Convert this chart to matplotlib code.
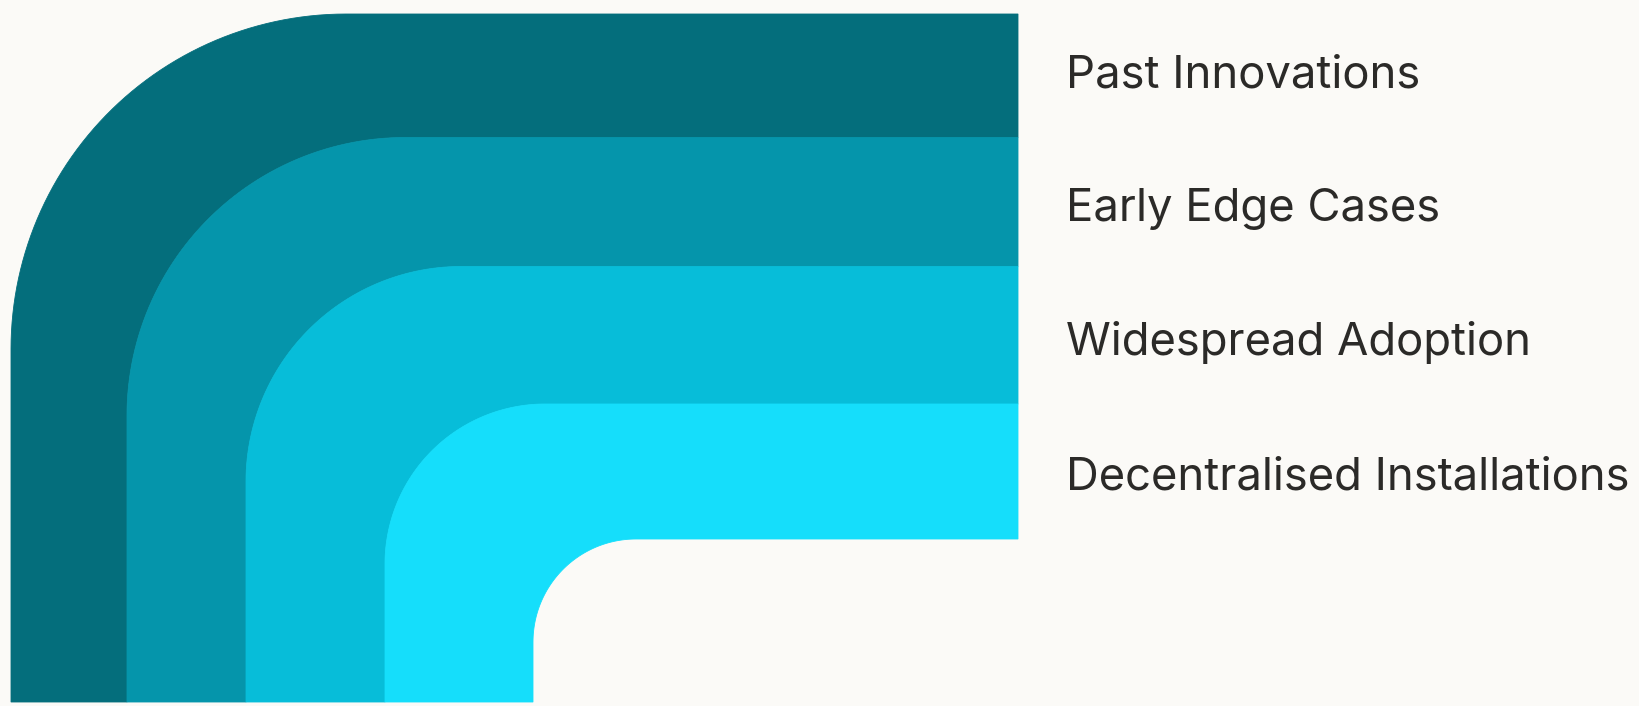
import numpy as np
import matplotlib.pyplot as plt
from matplotlib import font_manager

labels = ["Past Innovations", "Early Edge Cases", "Widespread Adoption", "Decentralised Installations"]
# thickness of each band in the horizontal arm and in the vertical arm
arm_h = [123.5, 129, 137.5, 135]
arm_v = [116, 119, 139, 148]
radii = [335, 278, 215, 160, 103]   # corner radius of each band edge, outermost first
colors = ["#046e7c", "#0595ab", "#07bdd9", "#15defb"]

bg = "#fbfaf7"
W, H = 1639, 706
left0, top0 = 11, 14
right, bottom = 1018, 702

fig = plt.figure(figsize=(W/100, H/100), dpi=100, facecolor=bg)
ax = fig.add_axes([0, 0, 1, 1])
ax.set_xlim(0, W); ax.set_ylim(H, 0)
ax.axis('off')
ax.set_facecolor(bg)

xs = np.concatenate([[left0], left0 + np.cumsum(arm_v)])
ys = np.concatenate([[top0], top0 + np.cumsum(arm_h)])

def edge(x, y, r):
    # top edge -> rounded corner -> left edge, going from right to bottom
    t = np.linspace(np.pi/2, 0, 60)
    ax_ = x + r - r*np.cos(t)
    ay_ = y + r - r*np.sin(t)
    px = np.concatenate([[right], ax_, [x]])
    py = np.concatenate([[y], ay_, [bottom]])
    return px, py

for i in range(len(labels)):
    ox, oy = edge(xs[i], ys[i], radii[i])
    ix, iy = edge(xs[i+1], ys[i+1], radii[i+1])
    px = np.concatenate([ox, ix[::-1]])
    py = np.concatenate([oy, iy[::-1]])
    ax.fill(px, py, color=colors[i], lw=0.6, ec=colors[i], zorder=2 + i)

names = [f.name for f in font_manager.fontManager.ttflist]
fam = "Inter" if "Inter" in names else "DejaVu Sans"

# size the labels so the longest one spans about 564 px, like the reference
renderer = fig.canvas.get_renderer()
probe = ax.text(0, 0, labels[-1], fontsize=20, family=fam)
w20 = probe.get_window_extent(renderer).width
probe.remove()
fs = 20 * 564 / w20

for i, lab in enumerate(labels):
    ax.text(1066, 87.5 + i * 133.9, lab, fontsize=fs, family=fam, weight='normal',
            color="#2b2a28", va='baseline', ha='left')

fig.savefig("out.png", dpi=100, facecolor=bg)
